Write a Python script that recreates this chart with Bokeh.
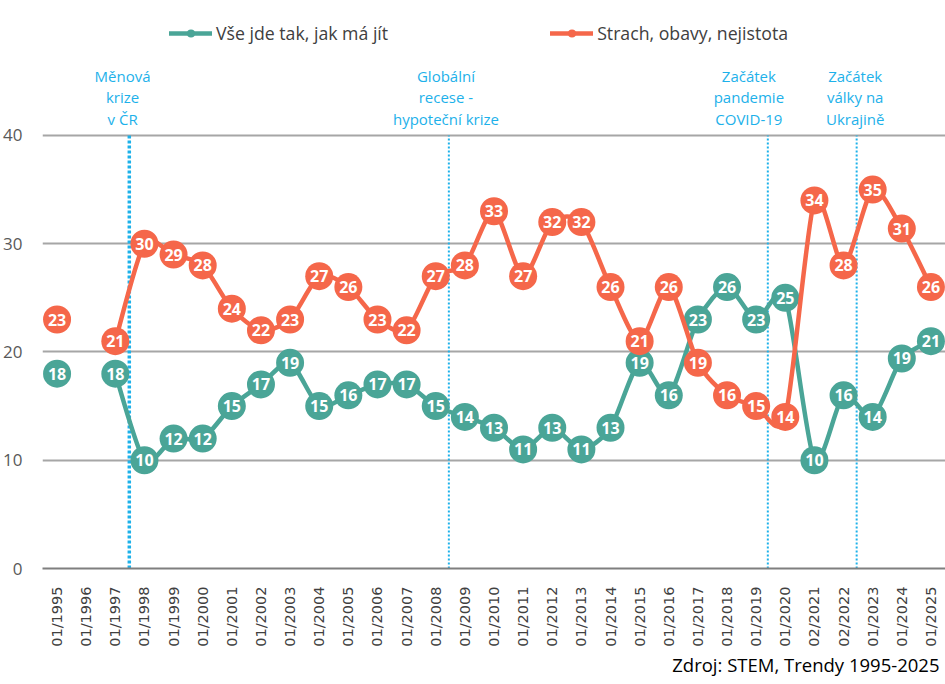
import math
from bokeh.plotting import figure
from bokeh.models import Range1d, FixedTicker, Legend, LegendItem, Title
from bokeh.core.properties import value
from bokeh.embed import file_html
from bokeh.resources import INLINE

periods = ["01/1995", "01/1996", "01/1997", "01/1998", "01/1999", "01/2000", "01/2001",
           "01/2002", "01/2003", "01/2004", "01/2005", "01/2006", "01/2007", "01/2008",
           "01/2009", "01/2010", "01/2011", "01/2012", "01/2013", "01/2014", "01/2015",
           "01/2016", "01/2017", "01/2018", "01/2019", "01/2020", "02/2021", "02/2022",
           "01/2023", "01/2024", "01/2025"]
vse_jde = [18, None, 18, 10, 12, 12, 15, 17, 19, 15, 16, 17, 17, 15, 14, 13, 11, 13, 11, 13,
           19, 16, 23, 26, 23, 25, 10, 16, 14, 19.4, 21]
strach = [23, None, 21, 30, 29, 28, 24, 22, 23, 27, 26, 23, 22, 27, 28, 33, 27, 32, 32, 26,
          21, 26, 19, 16, 15, 14, 34, 28, 35, 31.4, 26]
series_names = ["Vše jde tak, jak má jít", "Strach, obavy, nejistota"]
y_ticks = [0, 10, 20, 30, 40]
events = ["Měnová\nkrize\nv ČR", "Globální\nrecese -\nhypoteční krize",
          "Začátek\npandemie\nCOVID-19", "Začátek\nválky na\nUkrajině"]
event_pos = [2.48, 13.45, 24.4, 27.45]
event_label_pos = [2.25, 13.35, 23.75, 27.4]
source_text = "Zdroj: STEM, Trendy 1995-2025"

GREEN = "#4AA597"
ORANGE = "#F5674A"
BLUE = "#1DB1EA"
FONT = "Open Sans"
NAN = float("nan")

p = figure(frame_width=903, frame_height=560, output_backend="svg", toolbar_location=None,
           x_range=Range1d(-0.5, len(periods) - 0.5), y_range=Range1d(0, 51.73),
           min_border_left=32, min_border_right=0, min_border_top=8, min_border_bottom=114)
p.outline_line_color = None
p.background_fill_color = "white"
p.border_fill_color = "white"

# axes
p.xaxis.ticker = FixedTicker(ticks=list(range(len(periods))))
p.xaxis.major_label_overrides = {i: lab for i, lab in enumerate(periods)}
p.xaxis.major_label_orientation = math.pi / 2
p.xaxis.major_label_text_font = "DejaVu Sans"
p.xaxis.major_label_text_font_size = "14.5px"
p.xaxis.major_label_text_color = "#404040"
p.xaxis.major_label_standoff = 12
p.xaxis.axis_line_color = "#7F7F7F"
p.xaxis.axis_line_width = 2
p.xaxis.major_tick_line_color = None
p.xaxis.minor_tick_line_color = None

p.yaxis.ticker = FixedTicker(ticks=y_ticks)
p.yaxis.major_label_text_font = FONT
p.yaxis.major_label_text_font_size = "17px"
p.yaxis.major_label_text_color = "#595959"
p.yaxis.major_label_standoff = 14
p.yaxis.axis_line_color = None
p.yaxis.major_tick_line_color = None
p.yaxis.minor_tick_line_color = None

p.xgrid.visible = False
p.ygrid.grid_line_color = "#A6A6A6"
p.ygrid.grid_line_width = 2

# event markers
p.segment(x0=event_pos[:1], y0=[0], x1=event_pos[:1], y1=[40], line_color=BLUE,
          line_width=3.5, line_dash="3 2")
p.segment(x0=event_pos[1:], y0=[0] * 3, x1=event_pos[1:], y1=[40] * 3, line_color=BLUE,
          line_width=2, line_dash="2 2")
p.text(x=event_label_pos, y=[40.6] * len(events), text=events, text_font=value(FONT),
       text_font_size="15px", text_color=BLUE, text_align="center", text_baseline="bottom",
       text_line_height=1.08)


def smooth(vals, k=8.0):
    n = len(vals)
    out = dict(x0=[], y0=[], x1=[], y1=[], cx0=[], cy0=[], cx1=[], cy1=[])
    for i in range(n - 1):
        if vals[i] is None or vals[i + 1] is None:
            continue
        pr = i - 1 if i - 1 >= 0 and vals[i - 1] is not None else i
        nx = i + 2 if i + 2 < n and vals[i + 2] is not None else i + 1
        out["x0"].append(i); out["y0"].append(vals[i])
        out["x1"].append(i + 1); out["y1"].append(vals[i + 1])
        out["cx0"].append(i + (i + 1 - pr) / k)
        out["cy0"].append(vals[i] + (vals[i + 1] - vals[pr]) / k)
        out["cx1"].append(i + 1 - (nx - i) / k)
        out["cy1"].append(vals[i + 1] - (vals[nx] - vals[i]) / k)
    return out


legend_items = []
for vals, color, name in [(vse_jde, GREEN, series_names[0]), (strach, ORANGE, series_names[1])]:
    seg = smooth(vals)
    p.bezier(line_color=color, line_width=4.5, line_cap="round", **seg)
    xs = [i for i, v in enumerate(vals) if v is not None]
    ys = [v for v in vals if v is not None]
    p.scatter(xs, ys, size=28, fill_color=color, line_color=None)
    p.text(x=xs, y=ys, text=[str(int(round(v))) for v in ys], text_font=value(FONT),
           text_font_style="bold", text_font_size="16px", text_color="white",
           text_align="center", text_baseline="middle")
    lr = p.line(x=[NAN], y=[NAN], line_color=color, line_width=4.5, line_cap="round")
    sr = p.scatter(x=[NAN], y=[NAN], size=10, fill_color=color, line_color=None)
    legend_items.append(LegendItem(label=name, renderers=[lr, sr]))

legend = Legend(items=legend_items, orientation="horizontal", location=(127, 523),
                spacing=162, glyph_width=43, glyph_height=20, label_standoff=4,
                padding=0, margin=0, border_line_color=None, background_fill_alpha=0,
                label_text_font=FONT, label_text_font_size="17.7px", label_text_color="#404040")
p.add_layout(legend)

p.add_layout(Title(text=source_text, align="right", text_font=FONT, text_font_size="18.5px",
                   text_font_style="normal", text_color="black", standoff=0, offset=6), "below")

open("out.html", "w").write(file_html(p, INLINE))
